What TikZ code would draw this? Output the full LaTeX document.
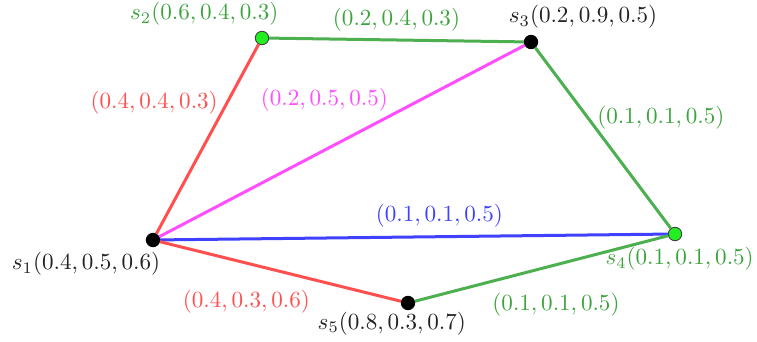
\documentclass[tikz,border=0pt]{standalone}
\usepackage{xcolor}
\definecolor{edgered}{HTML}{FF4F4F}
\definecolor{edgegreen}{HTML}{4CAF50}
\definecolor{labgreen}{HTML}{3DA33D}
\definecolor{edgemag}{HTML}{FF4DFF}
\definecolor{edgeblue}{HTML}{4040FF}
\definecolor{dotgreen}{HTML}{22EE22}
\definecolor{labgray}{HTML}{222222}
\usepackage{tikz}
\usetikzlibrary{positioning}

\begin{document}
\begin{tikzpicture}[x=0.433pt, y=-0.433pt,
    vdot/.style={circle, inner sep=0pt, minimum size=5.8pt, draw=black, fill=black},
    gdot/.style={vdot, draw=black!75, fill=dotgreen, line width=0.4pt},
    link/.style={line width=1.3pt}]
  \useasboundingbox (0,0) rectangle (757,342);

  % vertices
  \node[vdot] (s1) at (153,240) {};
  \node[gdot] (s2) at (262,38) {};
  \node[vdot] (s3) at (531,42) {};
  \node[gdot] (s4) at (675,234) {};
  \node[vdot] (s5) at (408,303) {};

  \node[text=labgray, below=-1.3pt of s1, xshift=-29pt] (l1) {$s_1(0.4,0.5,0.6)$};
  \node[text=labgreen, above=-1.3pt of s2, xshift=-25pt] (l2) {$s_2(0.6,0.4,0.3)$};
  \node[text=labgray, above=-0.8pt of s3, xshift=22.5pt] (l3) {$s_3(0.2,0.9,0.5)$};
  \node[text=labgreen, below=-0.8pt of s4, xshift=2pt] (l4) {$s_4(0.1,0.1,0.5)$};
  \node[text=labgray, below=-2.8pt of s5, xshift=-7pt] (l5) {$s_5(0.8,0.3,0.7)$};

  % edges
  \draw[link, edgered] (s1) -- node[pos=0.69, left, text=edgered]
    {$(0.4,0.4,0.3)$} (s2);
  \draw[link, edgegreen] (s2) -- node[above=0pt, text=labgreen]
    {$(0.2,0.4,0.3)$} (s3);
  \draw[link, edgegreen] (s3) -- node[pos=0.39, right, text=labgreen]
    {$(0.1,0.1,0.5)$} (s4);
  \draw[link, edgemag] (s1) -- node[pos=0.635, above left=-3.5pt, text=edgemag]
    {$(0.2,0.5,0.5)$} (s3);
  \draw[link, edgeblue] (s1) -- node[pos=0.55, above, text=edgeblue]
    {$(0.1,0.1,0.5)$} (s4);
  \draw[link, edgered] (s1) -- node[pos=0.66, below left, text=edgered]
    {$(0.4,0.3,0.6)$} (s5);
  \draw[link, edgegreen] (s5) -- node[pos=0.27, below right, text=labgreen]
    {$(0.1,0.1,0.5)$} (s4);

\end{tikzpicture}
\end{document}
